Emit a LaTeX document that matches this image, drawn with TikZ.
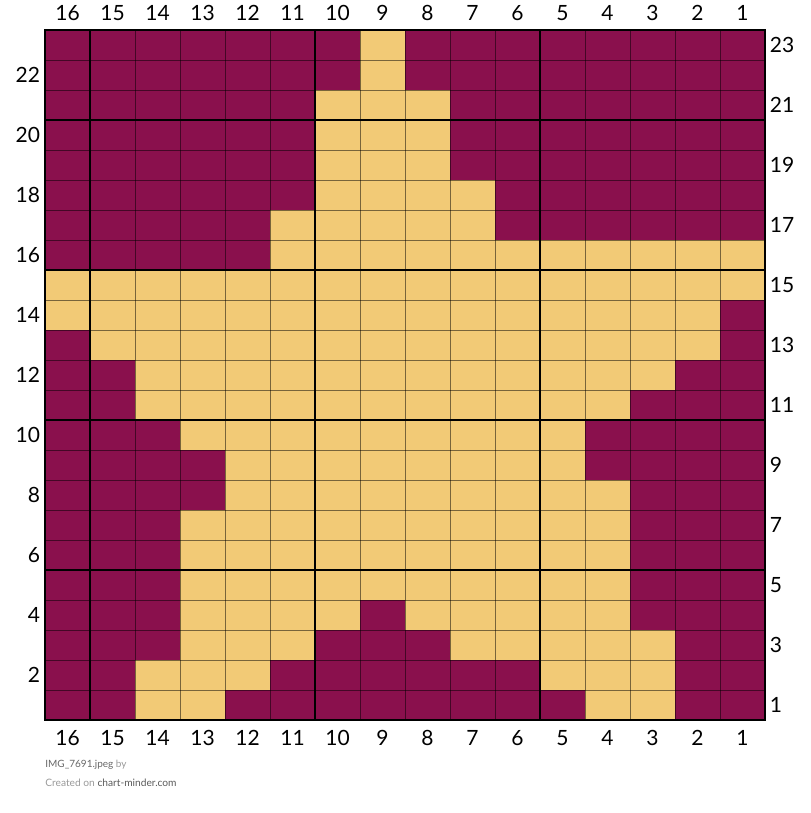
\documentclass[tikz,border=0pt]{standalone}
\usepackage{fontspec}
\setmainfont{Lato}
\definecolor{plum}{HTML}{8A104D}
\definecolor{straw}{HTML}{F2CA76}
\tikzset{
  numlbl/.style={font=\fontsize{10.5}{12}\selectfont, inner sep=0pt},
  footlbl/.style={font=\fontsize{5}{6}\selectfont, inner sep=0pt, anchor=west},
  thinline/.style={draw=black, draw opacity=0.5, line width=0.45pt},
  thickline/.style={draw=black, line width=1pt}
}
\begin{document}
\begin{tikzpicture}[x=22.5pt, y=15pt]
  \useasboundingbox (-1,-3.1) rectangle (17,24);
  % background of the chart (purple)
  \fill[plum] (0,0) rectangle (16,23);
  % yellow runs: row / from column / to column
  \foreach \r/\hi/\lo in {23/9/9, 22/9/9, 21/10/8, 20/10/8, 19/10/8, 18/10/7,
      17/11/7, 16/11/1, 15/16/1, 14/16/2, 13/15/2, 12/14/3, 11/14/4,
      10/13/5, 9/12/5, 8/12/4, 7/13/4, 6/13/4, 5/13/4, 4/13/10, 4/8/4,
      3/13/11, 3/7/3, 2/14/12, 2/5/3, 1/14/13, 1/4/3} {
    \fill[straw] (16-\hi, \r-1) rectangle (17-\lo, \r);
  }
  % thin grid
  \foreach \c in {1,...,15} {
    \draw[thinline] (\c,0) -- (\c,23);
  }
  \foreach \r in {1,...,22} {
    \draw[thinline] (0,\r) -- (16,\r);
  }
  % thick lines every 5 stitches
  \foreach \c in {1,6,11} {
    \draw[thickline] (\c,0) -- (\c,23);
  }
  \foreach \r in {5,10,15,20} {
    \draw[thickline] (0,\r) -- (16,\r);
  }
  \draw[line width=1.3pt] (0,0) rectangle (16,23);
  % column numbers
  \foreach \c in {1,...,16} {
    \node[numlbl] (t\c) at (16.5-\c, 23.57) {\c};
    \node[numlbl] (b\c) at (16.5-\c, -0.6) {\c};
  }
  % row numbers
  \foreach \r in {2,4,...,22} {
    \node[numlbl, anchor=east] (l\r) at (-0.1, \r-0.5) {\r};
  }
  \foreach \r in {1,3,...,23} {
    \node[numlbl, anchor=west] (r\r) at (16.1, \r-0.5) {\r};
  }
  % footer
  \node[footlbl] (src) at (0,-1.5) {\textcolor{black!60}{IMG\_7691.jpeg} \textcolor{black!40}{by}};
  \node[footlbl, font=\fontsize{5.1}{6}\selectfont] (site) at (0,-2.1) {\textcolor{black!40}{Created on} \textcolor{black!65}{chart-minder.com}};
\end{tikzpicture}
\end{document}
